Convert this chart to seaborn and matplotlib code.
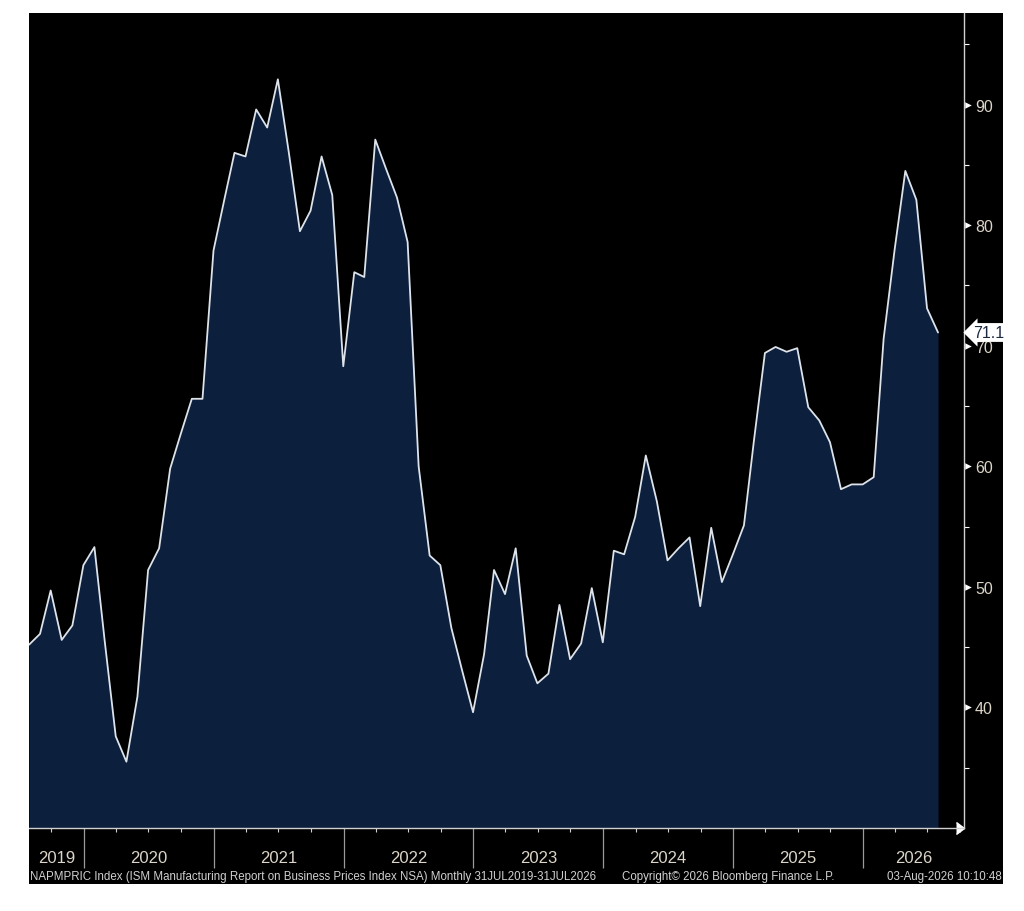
import pandas as pd
import matplotlib.pyplot as plt
import matplotlib.dates as mdates
import matplotlib.transforms as mtransforms
from matplotlib.patches import Rectangle
import seaborn as sns

# ISM manufacturing prices index, monthly, Jul 2019 - Jul 2026
prices = [45.2, 46.1, 49.7, 45.6, 46.8, 51.8, 53.3, 45.5, 37.6, 35.5,
          40.9, 51.4, 53.2, 59.8, 62.7, 65.6, 65.6, 77.9, 82.2, 86.0,
          85.7, 89.6, 88.1, 92.1, 86.0, 79.5, 81.2, 85.7, 82.5, 68.3,
          76.1, 75.7, 87.1, 84.7, 82.3, 78.6, 60.0, 52.6, 51.8, 46.6,
          43.1, 39.6, 44.4, 51.4, 49.4, 53.2, 44.3, 42.0, 42.8, 48.5,
          44.0, 45.3, 49.9, 45.4, 53.0, 52.7, 55.8, 60.9, 57.1, 52.2,
          53.2, 54.1, 48.4, 54.9, 50.4, 52.7, 55.1, 62.1, 69.4, 69.9,
          69.5, 69.8, 64.9, 63.8, 62.0, 58.1, 58.5, 58.5, 59.1, 70.6,
          78.0, 84.5, 82.1, 73.1, 71.1]
years = list(range(2019, 2027))
major_y = [40, 50, 60, 70, 80, 90]
minor_y = [35, 45, 55, 65, 75, 85, 95]

footer_left = 'NAPMPRIC Index (ISM Manufacturing Report on Business Prices Index NSA) Monthly 31JUL2019-31JUL2026'
footer_mid = 'Copyright\u00a9 2026 Bloomberg Finance L.P.'
footer_right = '03-Aug-2026 10:10:48'

dates = pd.date_range('2019-07-31', periods=len(prices), freq='ME')
df = pd.DataFrame({'date': dates, 'price': prices})

sns.set_theme(style='dark')
plt.rcParams['font.family'] = ['Liberation Sans', 'DejaVu Sans']

text_col = '#dcd5c8'
fig = plt.figure(figsize=(10.24, 9.12), dpi=100, facecolor='white')
fig.patches.append(Rectangle((29 / 1024, 1 - 885 / 912), 974 / 1024, 871 / 912,
                             transform=fig.transFigure, fc='black', ec='none', zorder=-5))
ax = fig.add_axes([29 / 1024, 1 - 829 / 912, 935 / 1024, 815 / 912])
ax.set_zorder(2)
ax.set_facecolor('black')
ax.grid(False)

ax.fill_between(df['date'], df['price'], 30, color='#0c1f3d', lw=0)
sns.lineplot(data=df, x='date', y='price', ax=ax, color='#dde3ea', lw=1.3)

x0, x1 = pd.Timestamp('2019-07-31'), pd.Timestamp('2026-10-12')
ax.set_xlim(x0, x1)
ax.set_ylim(30, 97.6)
ax.set_xlabel('')
ax.set_ylabel('')

for s in ['left', 'top']:
    ax.spines[s].set_visible(False)
for s in ['right', 'bottom']:
    ax.spines[s].set_visible(True)
    ax.spines[s].set_color('#d0d0d0')
    ax.spines[s].set_linewidth(1)

# y axis on the right, major ticks drawn as small triangles
ax.yaxis.tick_right()
ax.set_yticks(major_y)
ax.set_yticks(minor_y, minor=True)
ax.tick_params(axis='y', which='major', right=True, length=0,
               labelcolor=text_col, labelsize=11.5, pad=8)
ax.tick_params(axis='y', which='minor', right=True, direction='out', length=3.5,
               width=0.8, colors='white')
ytrans = mtransforms.blended_transform_factory(ax.transAxes, ax.transData)
ax.scatter([1.0045] * len(major_y), major_y, marker='>', s=22, color='white',
           linewidths=0, transform=ytrans, clip_on=False, zorder=5)

# x axis: year separators and quarterly minor ticks
ax.xaxis.set_major_locator(mdates.YearLocator())
ax.xaxis.set_minor_locator(mdates.MonthLocator(bymonth=[4, 7, 10]))
ax.xaxis.set_major_formatter(plt.NullFormatter())
ax.xaxis.set_minor_formatter(plt.NullFormatter())
ax.tick_params(axis='x', which='major', bottom=True, direction='out', length=29,
               width=0.9, colors='#9a9a9a')
ax.tick_params(axis='x', which='minor', bottom=True, direction='out', length=3,
               width=0.8, colors='#d0d0d0')

trans = mtransforms.blended_transform_factory(ax.transData, ax.transAxes)
lo, hi = mdates.date2num(x0), mdates.date2num(x1)
for y in years:
    a = max(mdates.date2num(pd.Timestamp(f'{y}-01-01')), lo)
    b = min(mdates.date2num(pd.Timestamp(f'{y + 1}-01-01')), hi)
    ax.text((a + b) / 2, -0.0356, str(y), transform=trans, ha='center', va='center',
            fontsize=12, color=text_col, clip_on=False)

# arrow at end of x axis
ax.plot([1], [0], marker=5, ms=8, color='white', transform=ax.transAxes, clip_on=False)

# last value tag
ax.text(1.01, prices[-1], f'{prices[-1]}', transform=ytrans, ha='left', va='center',
        fontsize=11.5, color='#1a2840', zorder=10, clip_on=False,
        bbox=dict(boxstyle='larrow,pad=0.12', fc='white', ec='none'))

fy = 1 - 877 / 912
fs = 8.3
fig.text(30 / 1024, fy, footer_left, ha='left', va='center', fontsize=fs, color='#d0d0d0')
fig.text(622 / 1024, fy, footer_mid, ha='left', va='center', fontsize=fs, color='#d0d0d0')
fig.text(1002 / 1024, fy, footer_right, ha='right', va='center', fontsize=fs, color='#d0d0d0')

plt.savefig('out.png', dpi=100, facecolor='white')
